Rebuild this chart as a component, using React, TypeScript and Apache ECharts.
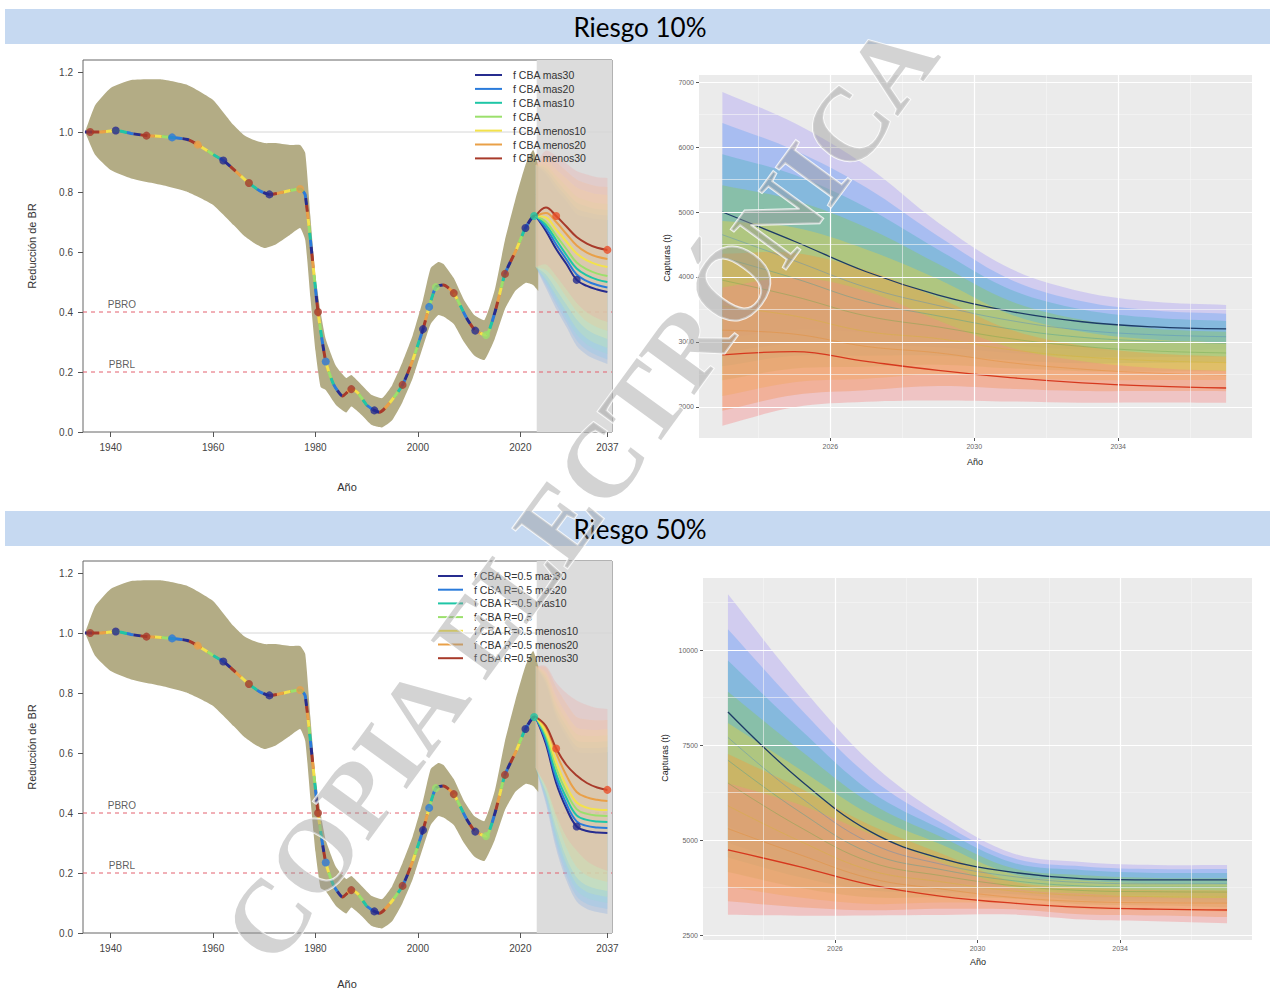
import React, { useEffect, useRef } from 'react';
import * as echarts from 'echarts';

// ---------------- DATA ----------------
const scenarioNames = ['mas30', 'mas20', 'mas10', 'CBA', 'menos10', 'menos20', 'menos30'];
const legendLabels10 = ['f CBA mas30', 'f CBA mas20', 'f CBA mas10', 'f CBA', 'f CBA menos10', 'f CBA menos20', 'f CBA menos30'];
const legendLabels50 = ['f CBA R=0.5 mas30', 'f CBA R=0.5 mas20', 'f CBA R=0.5 mas10', 'f CBA R=0.5', 'f CBA R=0.5 menos10', 'f CBA R=0.5 menos20', 'f CBA R=0.5 menos30'];
const panelTitles = ['Riesgo 10%', 'Riesgo 50%'];

// historical depletion trajectory (BR reduction)
const histYears = [1935, 1936, 1938, 1941, 1944, 1947, 1950, 1952, 1955, 1957, 1960, 1962, 1965, 1967, 1969, 1971, 1973, 1975, 1977, 1978, 1980.5, 1982, 1983.5, 1985.3, 1987, 1988.3, 1990, 1991.5, 1992.5, 1994.5, 1997, 1999, 2001, 2002.2, 2003.5, 2005, 2007, 2009.4, 2011.2, 2013.3, 2015, 2017, 2019.2, 2021, 2022.7, 2023];
const histBR = [1.0, 1.0, 1.0, 1.005, 0.995, 0.988, 0.985, 0.982, 0.975, 0.958, 0.925, 0.905, 0.86, 0.83, 0.805, 0.792, 0.797, 0.805, 0.81, 0.79, 0.40, 0.235, 0.16, 0.12, 0.143, 0.13, 0.09, 0.072, 0.066, 0.097, 0.157, 0.24, 0.343, 0.417, 0.483, 0.49, 0.463, 0.383, 0.338, 0.323, 0.397, 0.527, 0.607, 0.68, 0.72, 0.72];

// historical uncertainty band
const bandYears = [1935, 1937, 1940, 1944, 1950, 1955, 1960, 1964, 1966, 1968, 1970, 1972, 1975, 1977, 1978, 1979, 1980, 1981, 1982, 1984, 1986, 1987, 1989, 1991, 1993, 1995, 1997, 1999, 2001, 2002.5, 2004, 2005, 2007, 2009, 2011, 2013, 2015, 2017, 2019, 2021, 2022.5, 2023.5];
const bandUpper = [1.0, 1.09, 1.147, 1.173, 1.175, 1.157, 1.107, 1.023, 0.99, 0.973, 0.963, 0.963, 0.957, 0.957, 0.93, 0.72, 0.52, 0.40, 0.31, 0.22, 0.18, 0.19, 0.157, 0.123, 0.113, 0.157, 0.233, 0.323, 0.44, 0.547, 0.567, 0.56, 0.513, 0.44, 0.39, 0.373, 0.473, 0.64, 0.773, 0.89, 0.94, 0.89];
const bandLower = [1.0, 0.923, 0.873, 0.845, 0.823, 0.80, 0.757, 0.69, 0.655, 0.63, 0.613, 0.623, 0.657, 0.68, 0.64, 0.45, 0.27, 0.15, 0.14, 0.09, 0.065, 0.085, 0.057, 0.023, 0.015, 0.04, 0.10, 0.18, 0.285, 0.36, 0.39, 0.385, 0.36, 0.30, 0.255, 0.24, 0.31, 0.41, 0.47, 0.497, 0.49, 0.47];

// markers on the historical line: [year, scenario index]
const histMarkers = [[1936, 6], [1941, 0], [1947, 6], [1952, 1], [1957, 5], [1962, 0], [1967, 6], [1971, 0], [1977, 5], [1980.5, 6], [1982, 1], [1987, 6], [1991.5, 0], [1997, 6], [2001, 0], [2002.2, 1], [2003.5, 3], [2007, 6], [2011.2, 0], [2013.3, 3], [2017, 6], [2021, 0], [2022.7, 2]];

// projections
const projYears = [2023, 2025, 2027, 2029, 2031, 2033, 2035, 2037];
const brProj10 = [
  [0.72, 0.67, 0.61, 0.56, 0.507, 0.487, 0.475, 0.467],
  [0.72, 0.68, 0.625, 0.575, 0.525, 0.503, 0.49, 0.482],
  [0.72, 0.69, 0.64, 0.59, 0.545, 0.522, 0.508, 0.50],
  [0.72, 0.70, 0.655, 0.61, 0.565, 0.542, 0.528, 0.52],
  [0.72, 0.715, 0.675, 0.635, 0.595, 0.572, 0.558, 0.55],
  [0.72, 0.73, 0.70, 0.66, 0.622, 0.598, 0.584, 0.577],
  [0.72, 0.748, 0.72, 0.685, 0.65, 0.628, 0.614, 0.607],
];
const brProj50 = [
  [0.72, 0.63, 0.50, 0.415, 0.355, 0.34, 0.335, 0.333],
  [0.72, 0.64, 0.515, 0.43, 0.372, 0.357, 0.352, 0.35],
  [0.72, 0.65, 0.53, 0.45, 0.392, 0.377, 0.372, 0.37],
  [0.72, 0.66, 0.55, 0.47, 0.413, 0.397, 0.392, 0.39],
  [0.72, 0.67, 0.57, 0.49, 0.435, 0.418, 0.412, 0.41],
  [0.72, 0.685, 0.60, 0.525, 0.47, 0.452, 0.444, 0.44],
  [0.72, 0.69, 0.615, 0.56, 0.525, 0.50, 0.485, 0.477],
];
const brFanHalf10 = [0.17, 0.19, 0.2, 0.21, 0.22, 0.23, 0.235, 0.24];
const brFanHalf50 = [0.17, 0.2, 0.22, 0.24, 0.25, 0.26, 0.265, 0.27];
const projMarkers = [[2027, 6], [2031, 0], [2037, 6]];

// catches (t)
const catch10 = [
  [5000, 4550, 4080, 3720, 3470, 3310, 3230, 3200],
  [4650, 4250, 3840, 3560, 3330, 3180, 3110, 3080],
  [4300, 3980, 3620, 3400, 3200, 3070, 3010, 2980],
  [3950, 3700, 3400, 3230, 3050, 2930, 2860, 2830],
  [3550, 3400, 3160, 3050, 2880, 2770, 2710, 2680],
  [3180, 3120, 2930, 2830, 2680, 2580, 2520, 2490],
  [2800, 2850, 2700, 2560, 2450, 2370, 2320, 2290],
];
const catch50 = [
  [8370, 6600, 5220, 4510, 4150, 3980, 3950, 3950],
  [7700, 6150, 4920, 4360, 4040, 3880, 3850, 3850],
  [7100, 5750, 4650, 4220, 3930, 3790, 3760, 3760],
  [6500, 5350, 4420, 4060, 3800, 3670, 3640, 3630],
  [5900, 4980, 4200, 3900, 3660, 3540, 3510, 3500],
  [5300, 4620, 3990, 3710, 3490, 3380, 3350, 3340],
  [4740, 4300, 3820, 3520, 3340, 3230, 3180, 3160],
];
const catchUpRel10 = [0.37, 0.40, 0.40, 0.30, 0.19, 0.14, 0.12, 0.115];
const catchLoRel10 = [0.39, 0.30, 0.23, 0.18, 0.15, 0.13, 0.11, 0.10];
const catchUpRel50 = [0.37, 0.38, 0.35, 0.25, 0.12, 0.11, 0.10, 0.10];
const catchLoRel50 = [0.36, 0.30, 0.21, 0.14, 0.09, 0.10, 0.10, 0.11];

const leftXTicks = [1940, 1960, 1980, 2000, 2020, 2037];
const leftYTicks = [0, 0.2, 0.4, 0.6, 0.8, 1.0, 1.2];
const rightXTicks = [2026, 2030, 2034];
const rightXMinor = [2024, 2028, 2032, 2036];
const rightYTicks10 = [2000, 3000, 4000, 5000, 6000, 7000];
const rightYMinor10 = [2500, 3500, 4500, 5500, 6500];
const rightYTicks50 = [2500, 5000, 7500, 10000];
const rightYMinor50 = [3750, 6250, 8750, 11250];
const refLines = [{ value: 0.4, label: 'PBRO' }, { value: 0.2, label: 'PBRL' }];
const LEFT_X_MIN = 1934.6;
const LEFT_X_MAX = 2037.9;
const refLabelYear = 1942.2;

// ---------------- STYLE ----------------
const lineColorsLeft = ['#262C8F', '#2A7BDB', '#1FC6A6', '#9BE06C', '#F3E24B', '#E9A048', '#A83A2A'];
const fanColorsLeft = ['#7FA8E6', '#86C4F2', '#94E0D4', '#C8EAA6', '#F8EEA2', '#F6C690', '#F2A6A0'];
const bandColorsRight = ['#A99EF6', '#6CA8F4', '#4FB3C0', '#8DC85C', '#EBD244', '#F39B3E', '#F48A8A'];
const lineColorsRight = ['#1D3B66', '#4A86C8', '#3A9E9A', '#6BA84A', '#D8B630', '#E48A30', '#D6381E'];
const OLIVE = '#B3AC85';
const REDDASH = '#E3606F';
const SANS = '"Liberation Sans", Arial, sans-serif';

function polygonBand(xi: number, xs: number[], lo: number[], hi: number[], color: string, opacity: number, z: number, smooth: number) {
  return {
    type: 'custom',
    xAxisIndex: xi,
    yAxisIndex: xi,
    z,
    silent: true,
    clip: true,
    data: [[xs[0], lo[0]]],
    renderItem: (_p: any, api: any) => {
      const pts: number[][] = [];
      const n = xs.length;
      for (let i = 0; i < n; i++) {
        const p = api.coord([xs[i], hi[i]]);
        pts.push(p);
        if (i === 0 || i === n - 1) pts.push(p.slice());
      }
      for (let i = n - 1; i >= 0; i--) {
        const p = api.coord([xs[i], lo[i]]);
        pts.push(p);
        if (i === 0 || i === n - 1) pts.push(p.slice());
      }
      return { type: 'polygon', shape: { points: pts, smooth }, style: { fill: color, opacity } };
    },
  };
}

function leftPanel(idx: number, proj: number[][], fanHalf: number[]) {
  const s: any[] = [];
  // projection shading + 1.0 line
  s.push({
    type: 'line', xAxisIndex: idx, yAxisIndex: idx, z: 1, silent: true,
    data: [[LEFT_X_MIN, 1.0], [LEFT_X_MAX, 1.0]], showSymbol: false, lineStyle: { color: '#D6D6D6', width: 1 },
    markArea: { silent: true, itemStyle: { color: '#DCDCDC' }, data: [[{ xAxis: 2023.2 }, { xAxis: 2040 }]] },
  });
  // reference (dashed) lines
  refLines.forEach((r) => {
    s.push({
      type: 'line', xAxisIndex: idx, yAxisIndex: idx, z: 1, silent: true,
      data: [[LEFT_X_MIN, r.value], [LEFT_X_MAX, r.value]], showSymbol: false,
      lineStyle: { color: REDDASH, width: 1, type: [4, 4] },
    });
    s.push({
      type: 'scatter', xAxisIndex: idx, yAxisIndex: idx, z: 8, silent: true, symbolSize: 0,
      data: [[refLabelYear, r.value]],
      label: { show: true, position: 'top', distance: 3, formatter: r.label, color: '#333', fontSize: 10, fontFamily: SANS },
    });
  });
  // historical band
  s.push(polygonBand(idx, bandYears, bandLower, bandUpper, OLIVE, 1, 2, 0.15));
  // projection fans
  proj.forEach((vals, k) => {
    const lo = vals.map((v, i) => v - fanHalf[i]);
    const hi = vals.map((v, i) => v + fanHalf[i]);
    s.push(polygonBand(idx, projYears, lo, hi, fanColorsLeft[k], 0.28, 3, 0.3));
  });
  // historical line base
  const hist = histYears.map((y, i) => [y, histBR[i]]);
  s.push({ type: 'line', xAxisIndex: idx, yAxisIndex: idx, z: 5, silent: true, data: hist, smooth: 0.2, showSymbol: false, lineStyle: { color: '#C0502A', width: 2 } });
  lineColorsLeft.forEach((c, k) => {
    s.push({ type: 'line', xAxisIndex: idx, yAxisIndex: idx, z: 6, silent: true, data: hist, smooth: 0.2, showSymbol: false, lineStyle: { color: c, width: 3, type: [7, 42], dashOffset: k * 7 } });
  });
  // projection lines
  proj.forEach((vals, k) => {
    s.push({ type: 'line', xAxisIndex: idx, yAxisIndex: idx, z: 6, silent: true, data: projYears.map((y, i) => [y, vals[i]]), smooth: 0.4, showSymbol: false, lineStyle: { color: lineColorsLeft[k], width: 2 } });
  });
  // markers
  const mk = histMarkers.map(([y, k]) => ({ value: [y, histBR[histYears.indexOf(y)]], itemStyle: { color: lineColorsLeft[k] } }));
  const pm = projMarkers.map(([y, k]) => ({ value: [y, proj[k][projYears.indexOf(y)]], itemStyle: { color: k === 6 ? '#E8502A' : lineColorsLeft[k] } }));
  s.push({ type: 'scatter', xAxisIndex: idx, yAxisIndex: idx, z: 7, silent: true, symbolSize: 8, data: [...mk, ...pm] });
  return s;
}

function rightPanel(idx: number, vals: number[][], upRel: number[], loRel: number[], majorY: number[], minorY: number[]) {
  const s: any[] = [];
  s.push({
    type: 'line', xAxisIndex: idx, yAxisIndex: idx, z: 1, silent: true,
    data: [[2023, vals[0][0]]], showSymbol: false, lineStyle: { opacity: 0 },
    markLine: {
      silent: true, symbol: 'none', label: { show: false },
      lineStyle: { color: '#FFFFFF', type: 'solid', width: 1.2 },
      data: [
        ...minorY.map((v) => ({ yAxis: v, lineStyle: { color: '#F6F6F6', type: 'solid', width: 0.6 } })),
        ...rightXMinor.map((v) => ({ xAxis: v, lineStyle: { color: '#F6F6F6', type: 'solid', width: 0.6 } })),
        ...majorY.map((v) => ({ yAxis: v, lineStyle: { color: '#FFFFFF', type: 'solid', width: 1.2 } })),
        ...rightXTicks.map((v) => ({ xAxis: v, lineStyle: { color: '#FFFFFF', type: 'solid', width: 1.2 } })),
      ],
    },
  });
  vals.forEach((v, k) => {
    const lo = v.map((x, i) => x * (1 - loRel[i]));
    const hi = v.map((x, i) => x * (1 + upRel[i]));
    s.push(polygonBand(idx, projYears, lo, hi, bandColorsRight[k], 0.4, 2, 0.35));
  });
  vals.forEach((v, k) => {
    const main = k === 0 || k === 6;
    s.push({ type: 'line', xAxisIndex: idx, yAxisIndex: idx, z: 4, silent: true, data: projYears.map((y, i) => [y, v[i]]), smooth: 0.4, showSymbol: false, lineStyle: { color: lineColorsRight[k], width: main ? 1.3 : 0.8, opacity: main ? 1 : 0.5 } });
  });
  return s;
}

function leftAxes(grid: number) {
  return {
    x: {
      type: 'value', gridIndex: grid, min: LEFT_X_MIN, max: LEFT_X_MAX,
      axisLine: { show: false }, splitLine: { show: false },
      axisTick: { show: true, length: 5, customValues: leftXTicks, lineStyle: { color: '#555' } },
      axisLabel: { customValues: leftXTicks, color: '#444', fontSize: 10, fontFamily: SANS, margin: 10, formatter: (v: number) => String(v) },
    },
    y: {
      type: 'value', gridIndex: grid, min: 0, max: 1.24,
      axisLine: { show: false }, splitLine: { show: false },
      axisTick: { show: true, length: 5, customValues: leftYTicks, lineStyle: { color: '#555' } },
      axisLabel: { customValues: leftYTicks, color: '#444', fontSize: 10, fontFamily: SANS, margin: 10, formatter: (v: number) => v.toFixed(1) },
    },
  };
}

function rightAxes(grid: number, xmin: number, xmax: number, ymin: number, ymax: number, yticks: number[]) {
  return {
    x: {
      type: 'value', gridIndex: grid, min: xmin, max: xmax,
      axisLine: { show: false }, splitLine: { show: false },
      axisTick: { show: true, length: 3, customValues: rightXTicks, lineStyle: { color: '#555' } },
      axisLabel: { customValues: rightXTicks, color: '#666', fontSize: 7, fontFamily: SANS, margin: 5, formatter: (v: number) => String(v) },
    },
    y: {
      type: 'value', gridIndex: grid, min: ymin, max: ymax,
      axisLine: { show: false }, splitLine: { show: false },
      axisTick: { show: true, length: 3, customValues: yticks, lineStyle: { color: '#555' } },
      axisLabel: { customValues: yticks, color: '#666', fontSize: 7, fontFamily: SANS, margin: 5, formatter: (v: number) => String(v) },
    },
  };
}

function legendGraphic(labels: string[], x0: number, x1: number, tx: number, y0: number, dy: number) {
  const els: any[] = [];
  labels.forEach((t, k) => {
    const y = y0 + k * dy;
    els.push({ type: 'line', z: 50, shape: { x1: x0, y1: y, x2: x1, y2: y }, style: { stroke: lineColorsLeft[k], lineWidth: 2 } });
    els.push({ type: 'text', z: 50, x: tx, y, style: { text: t, fill: '#333', font: `10.5px ${SANS}`, verticalAlign: 'middle' } });
  });
  return els;
}

export default function App() {
  const ref = useRef<HTMLDivElement>(null);
  useEffect(() => {
    document.body.style.margin = '0';
    const chart = echarts.init(ref.current!, undefined, { renderer: 'svg' });
    const a0 = leftAxes(0), a1 = leftAxes(1);
    const a2 = rightAxes(2, 2022.35, 2037.72, 1520, 7110, rightYTicks10);
    const a3 = rightAxes(3, 2022.3, 2037.7, 2370, 11895, rightYTicks50);

    const graphic: any[] = [
      { type: 'rect', z: 0, shape: { x: 5, y: 9, width: 1265, height: 35 }, style: { fill: '#C6D9F1' } },
      { type: 'rect', z: 0, shape: { x: 5, y: 511, width: 1265, height: 35 }, style: { fill: '#C6D9F1' } },
      { type: 'text', z: 1, x: 640, y: 27, style: { text: panelTitles[0], fill: '#000', font: `26px Lato, sans-serif`, align: 'center', verticalAlign: 'middle' } },
      { type: 'text', z: 1, x: 640, y: 529, style: { text: panelTitles[1], fill: '#000', font: `26px Lato, sans-serif`, align: 'center', verticalAlign: 'middle' } },
      // axis names
      { type: 'text', x: 32, y: 246, rotation: Math.PI / 2, style: { text: 'Reducción de BR', fill: '#333', font: `11px ${SANS}`, align: 'center', verticalAlign: 'middle' } },
      { type: 'text', x: 32, y: 747, rotation: Math.PI / 2, style: { text: 'Reducción de BR', fill: '#333', font: `11px ${SANS}`, align: 'center', verticalAlign: 'middle' } },
      { type: 'text', x: 347, y: 487, style: { text: 'Año', fill: '#333', font: `11px ${SANS}`, align: 'center', verticalAlign: 'middle' } },
      { type: 'text', x: 347, y: 984, style: { text: 'Año', fill: '#333', font: `11px ${SANS}`, align: 'center', verticalAlign: 'middle' } },
      { type: 'text', x: 667, y: 258, rotation: Math.PI / 2, style: { text: 'Capturas (t)', fill: '#222', font: `9px ${SANS}`, align: 'center', verticalAlign: 'middle' } },
      { type: 'text', x: 665, y: 758, rotation: Math.PI / 2, style: { text: 'Capturas (t)', fill: '#222', font: `9px ${SANS}`, align: 'center', verticalAlign: 'middle' } },
      { type: 'text', x: 975, y: 462, style: { text: 'Año', fill: '#222', font: `9px ${SANS}`, align: 'center', verticalAlign: 'middle' } },
      { type: 'text', x: 978, y: 962, style: { text: 'Año', fill: '#222', font: `9px ${SANS}`, align: 'center', verticalAlign: 'middle' } },
      ...legendGraphic(legendLabels10, 475, 502, 513, 75, 13.9),
      ...legendGraphic(legendLabels50, 438, 463, 474, 576, 13.7),
      // watermark
      { type: 'text', z: 100, x: 580, y: 492, rotation: 0.94, silent: true, style: { text: 'COPIA ELECTRÓNICA', font: `bold 104px "Liberation Serif", serif`, fill: 'rgba(150,150,150,0.42)', stroke: 'rgba(255,255,255,0.8)', lineWidth: 2, align: 'center', verticalAlign: 'middle' } },
    ];

    chart.setOption({
      animation: false,
      backgroundColor: '#fff',
      grid: [
        { left: 83, top: 60, width: 529, height: 372, show: true, borderColor: '#666', borderWidth: 1, backgroundColor: 'transparent' },
        { left: 83, top: 561, width: 529, height: 372, show: true, borderColor: '#666', borderWidth: 1, backgroundColor: 'transparent' },
        { left: 699, top: 75, width: 553, height: 363, show: true, borderWidth: 0, backgroundColor: '#EBEBEB' },
        { left: 703, top: 578, width: 549, height: 362, show: true, borderWidth: 0, backgroundColor: '#EBEBEB' },
      ],
      xAxis: [a0.x, a1.x, a2.x, a3.x],
      yAxis: [a0.y, a1.y, a2.y, a3.y],
      series: [
        ...leftPanel(0, brProj10, brFanHalf10),
        ...leftPanel(1, brProj50, brFanHalf50),
        ...rightPanel(2, catch10, catchUpRel10, catchLoRel10, rightYTicks10, rightYMinor10),
        ...rightPanel(3, catch50, catchUpRel50, catchLoRel50, rightYTicks50, rightYMinor50),
      ],
      graphic,
    });
    return () => chart.dispose();
  }, []);
  return <div ref={ref} style={{ width: 1270, height: 993 }} />;
}
